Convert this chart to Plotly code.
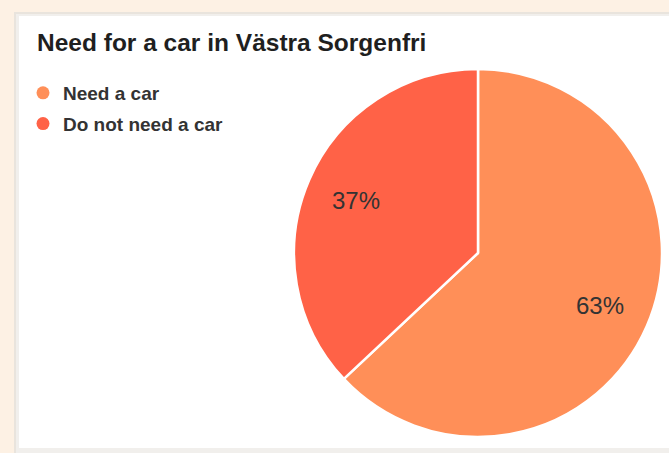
import plotly.graph_objects as go

# Survey result: share of residents who need a car
categories = ["Need a car", "Do not need a car"]
shares = [63, 37]
slice_colors = ["#FF8F58", "#FF6247"]

chart_title = "Need for a car in Västra Sorgenfri"

W, H = 669, 453
FONT = "Liberation Sans, Arial, sans-serif"
pie_domain = dict(x=[294 / W, 662 / W], y=[1 - 437 / H, 1 - 69 / H])

fig = go.Figure()

# Solid pie with white slice separators
fig.add_trace(go.Pie(
    labels=categories,
    values=shares,
    sort=False,
    direction="clockwise",
    rotation=0,
    marker=dict(colors=slice_colors, line=dict(color="#ffffff", width=2.5)),
    textinfo="none",
    hoverinfo="label+percent",
    showlegend=False,
    domain=pie_domain,
))

# Transparent ring on top that carries the percentage labels further out
fig.add_trace(go.Pie(
    labels=categories,
    values=shares,
    sort=False,
    direction="clockwise",
    rotation=0,
    hole=0.445,
    marker=dict(colors=["rgba(0,0,0,0)"] * len(categories), line=dict(width=0)),
    texttemplate="%{percent:.0%}",
    textposition="inside",
    insidetextorientation="horizontal",
    textfont=dict(family=FONT, size=24, color="#333333"),
    hoverinfo="skip",
    showlegend=False,
    domain=pie_domain,
))

# Circle legend entries for the pie slices
for i, (name, col) in enumerate(zip(categories, slice_colors)):
    fig.add_trace(go.Scatter(
        x=[None], y=[None], mode="markers", name=name,
        legendgroup=f"g{i}",
        marker=dict(symbol="circle", size=13, color=col),
    ))

shapes = [
    # soft shadow around the card
    dict(type="rect", xref="paper", yref="paper", layer="below",
         x0=14 / W, x1=1.01, y0=-0.01, y1=1 - 12 / H,
         fillcolor="#e9e4dd", line=dict(width=0)),
    dict(type="rect", xref="paper", yref="paper", layer="below",
         x0=16 / W, x1=1.01, y0=-0.01, y1=1 - 14 / H,
         fillcolor="#f1efec", line=dict(width=0)),
    # white card
    dict(type="rect", xref="paper", yref="paper", layer="below",
         x0=19 / W, x1=1.01, y0=1 - 448 / H, y1=1 - 16 / H,
         fillcolor="#ffffff", line=dict(width=0)),
]

fig.update_layout(
    width=W, height=H,
    margin=dict(l=0, r=0, t=0, b=0),
    paper_bgcolor="#fdf1e4",
    plot_bgcolor="rgba(0,0,0,0)",
    xaxis=dict(visible=False, range=[0, 1]),
    yaxis=dict(visible=False, range=[0, 1]),
    shapes=shapes,
    title=dict(
        text="<b>" + chart_title + "</b>",
        x=37 / W, xref="container", xanchor="left",
        y=1 - 42 / H, yref="container", yanchor="middle",
        font=dict(family=FONT, size=24.5, color="#1f1f1f"),
    ),
    legend=dict(
        x=23 / W, y=1 - 74 / H, xanchor="left", yanchor="top",
        font=dict(family=FONT, size=19, color="#333333", weight="bold"),
        bgcolor="rgba(0,0,0,0)",
        traceorder="grouped",
        tracegroupgap=3,
        itemwidth=30,
    ),
)

fig.write_html("out.html")
